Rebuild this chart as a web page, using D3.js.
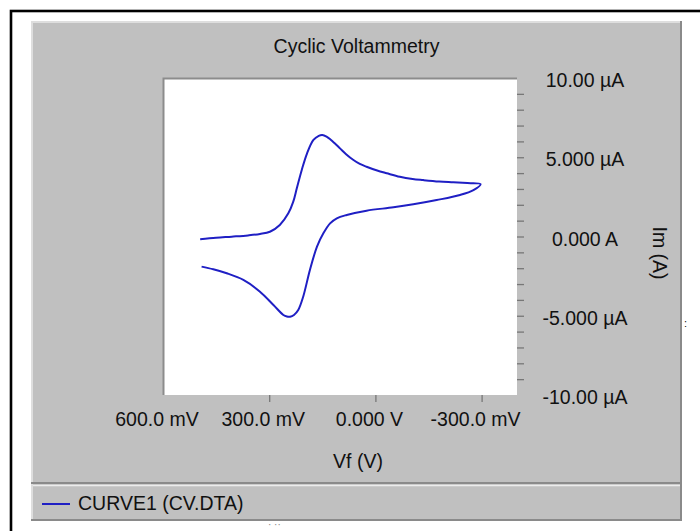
<!DOCTYPE html>
<html>
<head>
<meta charset="utf-8">
<script src="https://cdn.jsdelivr.net/npm/d3@7"></script>
<style>
  body { margin: 0; background: #fff; }
  text { font-family: "Liberation Sans", Arial, sans-serif; fill: #111; }
</style>
</head>
<body>
<div id="chart"></div>
<script>
"use strict"

// forward scan (V, uA)
var fwdPotential = [0.495, 0.45, 0.406, 0.36, 0.326, 0.298, 0.27, 0.246, 0.232, 0.222, 0.208, 0.193, 0.175, 0.16, 0.15, 0.138, 0.127, 0.115, 0.100, 0.082, 0.062, 0.044, 0.025, -0.005, -0.032, -0.069, -0.105, -0.135, -0.18, -0.22, -0.26, -0.297];
var fwdCurrent   = [-0.18, -0.08, -0.01, 0.07, 0.16, 0.30, 0.73, 1.46, 2.20, 3.04, 4.20, 5.25, 6.09, 6.35, 6.40, 6.30, 6.12, 5.88, 5.56, 5.18, 4.83, 4.58, 4.40, 4.16, 3.99, 3.77, 3.63, 3.56, 3.47, 3.42, 3.37, 3.31];
// reverse scan
var revPotential = [-0.297, -0.277, -0.239, -0.173, -0.107, -0.051, 0.025, 0.081, 0.109, 0.128, 0.147, 0.165, 0.185, 0.204, 0.218, 0.23, 0.241, 0.25, 0.26, 0.288, 0.326, 0.373, 0.42, 0.458, 0.491];
var revCurrent   = [3.31, 2.93, 2.62, 2.30, 2.03, 1.84, 1.63, 1.36, 1.15, 0.83, 0.20, -0.64, -2.11, -3.80, -4.64, -4.95, -5.06, -5.05, -4.95, -4.32, -3.48, -2.74, -2.32, -2.07, -1.90];

var xTicks = [0.6, 0.3, 0, -0.3];
var xTickLabels = ["600.0 mV", "300.0 mV", "0.000 V", "-300.0 mV"];
var yTicks = [10, 5, 0, -5, -10];
var yTickLabels = ["10.00 \u00b5A", "5.000 \u00b5A", "0.000 A", "-5.000 \u00b5A", "-10.00 \u00b5A"];
var yMinor = d3.range(-9, 10);

var title = "Cyclic Voltammetry";
var xTitle = "Vf (V)";
var yTitle = "Im (A)";
var legendLabel = "CURVE1 (CV.DTA)";

var width = 700, height = 531,
    plot = {left: 163, top: 78, right: 517, bottom: 395},
    panel = {left: 31, top: 21, right: 682, bottom: 521},
    fontSize = 19.5,
    blue = "#1f1fc4";

var svg = d3.select("#chart").append("svg")
    .attr("width", width)
    .attr("height", height);

// outer black frame (runs off the page right and bottom)
svg.append("rect")
    .attr("x", 11).attr("y", 11)
    .attr("width", 720).attr("height", 560)
    .style("fill", "none").style("stroke", "#000").style("stroke-width", 2.6);

// grey panel
svg.append("rect")
    .attr("x", panel.left).attr("y", panel.top)
    .attr("width", panel.right - panel.left).attr("height", panel.bottom - panel.top)
    .style("fill", "#c0c0c0");
svg.append("path")
    .attr("d", "M" + (panel.left + 1) + "," + panel.bottom + "V" + (panel.top + 1) + "H" + panel.right)
    .style("fill", "none").style("stroke", "#dedede").style("stroke-width", 2);
svg.append("path")
    .attr("d", "M" + panel.left + "," + (panel.bottom - 1) + "H" + (panel.right - 1) + "V" + panel.top)
    .style("fill", "none").style("stroke", "#8a8a8a").style("stroke-width", 2);

// legend separator
svg.append("line")
    .attr("x1", panel.left).attr("x2", panel.right - 1)
    .attr("y1", 483).attr("y2", 483)
    .style("stroke", "#8a8a8a").style("stroke-width", 2);
svg.append("line")
    .attr("x1", panel.left + 2).attr("x2", panel.right - 2)
    .attr("y1", 485.5).attr("y2", 485.5)
    .style("stroke", "#ececec").style("stroke-width", 1.5);

// plot area
svg.append("rect")
    .attr("x", plot.left).attr("y", plot.top)
    .attr("width", plot.right - plot.left).attr("height", plot.bottom - plot.top)
    .style("fill", "#fff");
svg.append("path")
    .attr("d", "M" + (plot.left + 0.5) + "," + plot.bottom + "V" + (plot.top + 0.5) + "H" + plot.right)
    .style("fill", "none").style("stroke", "#8c8c8c").style("stroke-width", 2);

var x = d3.scaleLinear().domain([0.6, -0.4]).range([plot.left, plot.right]);
var y = d3.scaleLinear().domain([-10, 10]).range([plot.bottom, plot.top]);

// x axis: ticks below the plot
var xAxis = svg.append("g")
    .attr("transform", "translate(0," + plot.bottom + ")")
    .call(d3.axisBottom(x).tickValues(xTicks.slice(1)).tickSize(7).tickFormat(""));
xAxis.select(".domain").remove();
xAxis.selectAll("line").style("stroke", "#777").style("stroke-width", 1.3);

svg.selectAll(".xlab").data(xTicks).enter().append("text")
    .attr("class", "xlab")
    .attr("x", function (d) { return x(d) - 6; })
    .attr("y", 426)
    .attr("text-anchor", "middle")
    .style("font-size", fontSize + "px")
    .text(function (d, i) { return xTickLabels[i]; });

// y axis on the right, minor ticks every 1 uA
var yAxis = svg.append("g")
    .attr("transform", "translate(" + plot.right + ",0)")
    .call(d3.axisRight(y).tickValues(yMinor).tickSize(7).tickFormat(""));
yAxis.select(".domain").remove();
yAxis.selectAll("line").style("stroke", "#777").style("stroke-width", 1.3);

svg.selectAll(".ylab").data(yTicks).enter().append("text")
    .attr("class", "ylab")
    .attr("x", 585)
    .attr("y", function (d) { return y(d) + 9; })
    .attr("text-anchor", "middle")
    .style("font-size", fontSize + "px")
    .text(function (d, i) { return yTickLabels[i]; });

// titles
svg.append("text")
    .attr("x", 356.5).attr("y", 53)
    .attr("text-anchor", "middle")
    .style("font-size", fontSize + "px")
    .text(title);

svg.append("text")
    .attr("x", 358).attr("y", 468)
    .attr("text-anchor", "middle")
    .style("font-size", fontSize + "px")
    .text(xTitle);

svg.append("text")
    .attr("transform", "translate(653,253) rotate(90)")
    .attr("text-anchor", "middle")
    .style("font-size", fontSize + "px")
    .text(yTitle);

// the curve
var pts = fwdPotential.map(function (v, i) { return [v, fwdCurrent[i]]; })
    .concat(revPotential.slice(1).map(function (v, i) { return [v, revCurrent[i + 1]]; }));

var line = d3.line()
    .x(function (d) { return x(d[0]); })
    .y(function (d) { return y(d[1]); })
    .curve(d3.curveCatmullRom.alpha(0.5));

svg.append("path")
    .datum(pts)
    .attr("d", line)
    .style("fill", "none")
    .style("stroke", blue)
    .style("stroke-width", 2)
    .style("stroke-linejoin", "round");

// legend
svg.append("line")
    .attr("x1", 42).attr("x2", 70)
    .attr("y1", 504).attr("y2", 504)
    .style("stroke", blue).style("stroke-width", 2);
svg.append("text")
    .attr("x", 78).attr("y", 510)
    .style("font-size", fontSize + "px")
    .text(legendLabel);

// stray marks in the screenshot
svg.append("text")
    .attr("x", 684).attr("y", 327)
    .style("font-size", "11px")
    .text(":");
svg.append("text")
    .attr("x", 268).attr("y", 528)
    .style("font-size", "10px").style("fill", "#888")
    .text("\u00b7 \u00b7\u00b7");
</script>
</body>
</html>
